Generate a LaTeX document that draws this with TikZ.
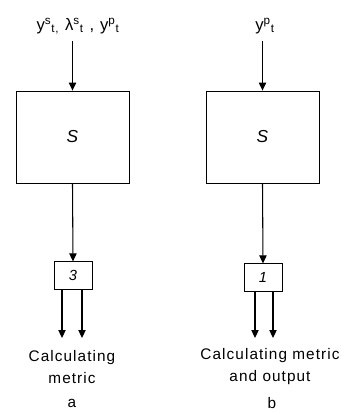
\documentclass[tikz,border=0pt]{standalone}
\usepackage{fontspec}
\setmainfont{Liberation Sans}
\newfontfamily\lblfont[LetterSpace=7]{Liberation Sans}
\usepackage{tikz}
\usetikzlibrary{
	arrows.meta,
	positioning
}

\begin{document}
\begin{tikzpicture}[
        x=0.75pt, y=-0.75pt,
        >={Triangle[length=6pt,width=5.5pt]},
        line width=0.8pt,
        font=\lblfont\fontsize{11.5}{16.5}\selectfont,
        % big block
        sbox/.style={
            rectangle, draw, line width=0.6pt,
            minimum width=84.75pt,
            minimum height=69pt,
            inner sep=0pt
        },
        % small numbered block
        nbox/.style={
            rectangle, draw, line width=0.6pt,
            minimum width=28.5pt,
            minimum height=20.5pt,
            inner sep=0pt,
            font=\itshape\fontsize{11}{13}\selectfont
        },
        % text under the outputs
        lbl/.style={align=center, inner sep=0pt}
    ]

        \useasboundingbox (0,0) rectangle (345,413);

        % ====================
        % left part (a)
        % ====================
        \node[lbl, font=\lblfont\fontsize{12.5}{15}\selectfont] (inA) at (78,26) {y\textsuperscript{s}\textsubscript{t,} λ\textsuperscript{s}\textsubscript{t} , y\textsuperscript{p}\textsubscript{t}};
        \node[sbox] (SA) at (72.5,137) {\itshape\fontsize{13}{15}\selectfont S};
        \node[nbox] (NA) at (73,275.5) {3};
        \coordinate (outA1) at (62,338);
        \coordinate (outA2) at (82,338);
        \node[lbl] (txtA) at (72,367) {Calculating\\metric};
        \node[lbl] (capA) at (72,403) {a};

        % ====================
        % right part (b)
        % ====================
        \node[lbl, font=\lblfont\fontsize{12.5}{15}\selectfont] (inB) at (265,26) {y\textsuperscript{p}\textsubscript{t}};
        \node[sbox] (SB) at (262.5,137) {\itshape\fontsize{13}{15}\selectfont S};
        \node[nbox] (NB) at (263,277.5) {1};
        \coordinate (outB1) at (255,338);
        \coordinate (outB2) at (273,338);
        \node[lbl] (txtB) at (270,367) {Calculating metric\\and output};
        \node[lbl] (capB) at (272,403) {b};

        % ====================
        % connections
        % ====================
        \draw[->] (inA.south -| SA.north) ++(0,-5pt) -- (SA.north);
        \draw[->] (SA.south) -- (NA.north);
        \draw[->] (NA.south -| outA1) -- (outA1);
        \draw[->] (NA.south -| outA2) -- (outA2);

        \draw[->] (inB.south -| SB.north) ++(0,-5pt) -- (SB.north);
        \draw[->] (SB.south) -- (NB.north);
        \draw[->] (NB.south -| outB1) -- (outB1);
        \draw[->] (NB.south -| outB2) -- (outB2);

    \end{tikzpicture}
\end{document}
